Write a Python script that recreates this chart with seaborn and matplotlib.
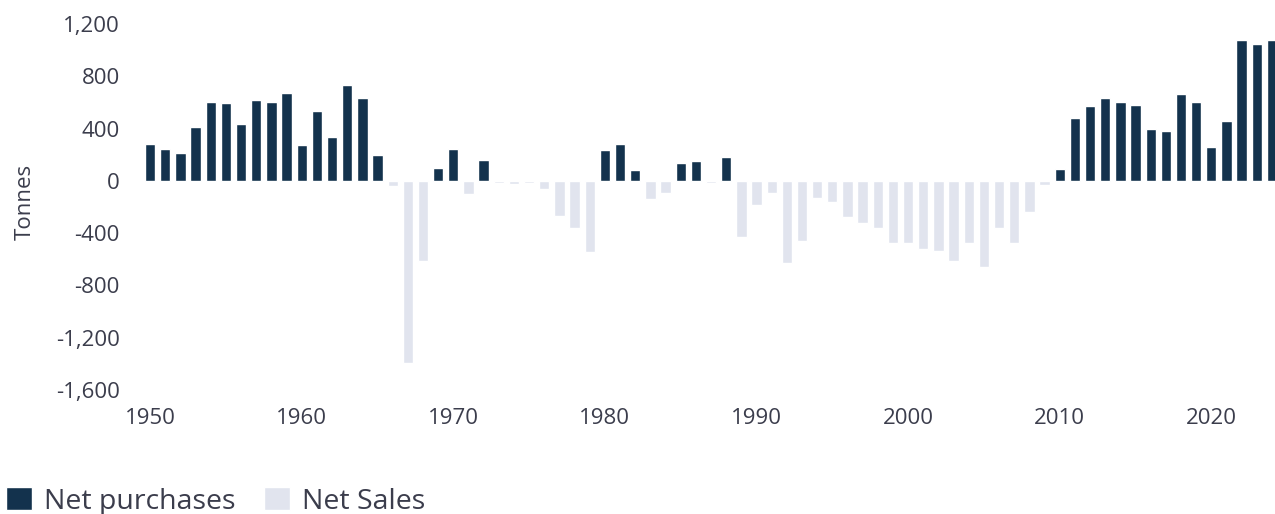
import matplotlib
matplotlib.use("Agg")
import matplotlib.pyplot as plt
import seaborn as sns
import pandas as pd

# net central bank gold purchases / sales, tonnes
years = list(range(1950, 2025))
values = [
    285, 245, 214, 413, 604, 597, 436, 620, 604, 673,
    275, 535, 337, 734, 635, 199, -38, -1392, -612, 99,
    245, -99, 161, -15, -23, -15, -61, -268, -360, -543,
    237, 283, 84, -138, -92, 138, 153, -15, 184, -428,
    -184, -92, -627, -459, -130, -161, -275, -321, -360, -474,
    -474, -520, -535, -612, -474, -658, -360, -474, -237, -31,
    92, 482, 574, 635, 604, 581, 398, 383, 666, 604,
    260, 459, 1079, 1048, 1079,
]
series_names = ["Net purchases", "Net Sales"]
colors = ["#13324d", "#e1e4ee"]
y_ticks = [-1600, -1200, -800, -400, 0, 400, 800, 1200]
x_ticks = [1950, 1960, 1970, 1980, 1990, 2000, 2010, 2020]

df = pd.DataFrame({"year": years, "value": values})
df["kind"] = [series_names[0] if v > 0 else series_names[1] for v in values]

sns.set_style("white")
plt.rcParams["font.family"] = ["Open Sans", "DejaVu Sans"]
text_color = "#3b3d4c"

fig = plt.figure(figsize=(12.75, 5.14), dpi=100)
ax = fig.add_axes([138 / 1275, 124 / 514, 1137 / 1275, 366 / 514])

sns.barplot(
    data=df, x="year", y="value", hue="kind", hue_order=series_names,
    palette=colors, native_scale=True, dodge=False, width=0.68,
    saturation=1, ax=ax,
)

ax.set_xlim(1949.2, 2024.2)
ax.set_ylim(-1600, 1200)
ax.set_yticks(y_ticks)
ax.set_yticklabels([f"{t:,}" for t in y_ticks])
ax.set_xticks(x_ticks)
ax.set_xticklabels([str(t) for t in x_ticks])
ax.tick_params(axis="both", length=0, labelsize=16, labelcolor=text_color)
ax.tick_params(axis="y", pad=13)
ax.tick_params(axis="x", pad=13)
ax.set_xlabel("")
ax.set_ylabel("")
sns.despine(ax=ax, left=True, bottom=True)

fig.text(25 / 1275, 1 - 202 / 514, "Tonnes", rotation=90, ha="center",
         va="center", fontsize=16, color=text_color)

handles, labels = ax.get_legend_handles_labels()
ax.get_legend().remove()
fig.legend(handles, labels, loc="lower left", bbox_to_anchor=(0.0, -0.014),
           ncol=2, frameon=False, fontsize=20.5, labelcolor=text_color,
           handlelength=0.92, handleheight=0.88, handletextpad=0.42,
           columnspacing=1.0, borderaxespad=0.1, borderpad=0.1)

fig.savefig("out.png", dpi=100)
plt.close(fig)
